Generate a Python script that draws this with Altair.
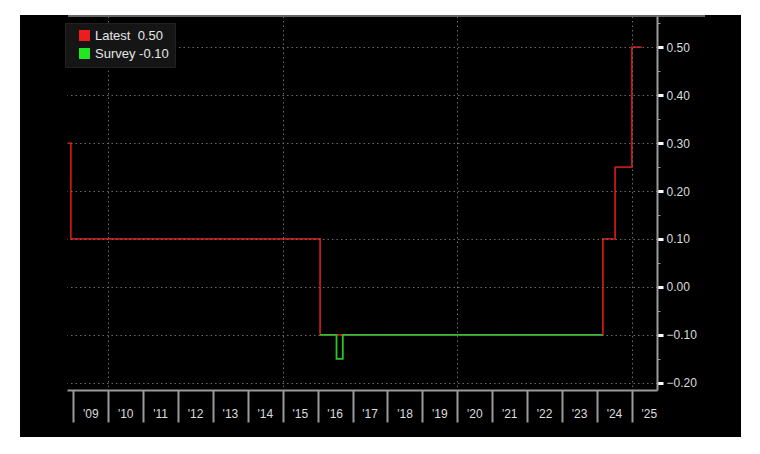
import altair as alt
import pandas as pd

# ---- data ----
series_names = ["Latest", "Survey"]
last_values = ["0.50", "-0.10"]
latest_x = [2008.85, 2008.93, 2016.07, 2024.17, 2024.52, 2025.0, 2025.28]
latest_y = [0.30, 0.10, -0.10, 0.10, 0.25, 0.50, 0.50]
survey_x = [2016.07, 2016.54, 2016.72, 2024.17]
survey_y = [-0.10, -0.15, -0.10, -0.10]
year_ticks = [2009, 2010, 2011, 2012, 2013, 2014, 2015, 2016, 2017,
              2018, 2019, 2020, 2021, 2022, 2023, 2024, 2025]
y_ticks = [-0.20, -0.15, -0.10, -0.05, 0.00, 0.05, 0.10, 0.15, 0.20,
           0.25, 0.30, 0.35, 0.40, 0.45, 0.50, 0.55]
x_domain = [2008.82, 2025.72]
y_domain = [-0.215, 0.565]
line_colors = ["#c41818", "#2cc42c"]
legend_colors = ["#ee1c1c", "#22e622"]

latest_df = pd.DataFrame({"t": latest_x, "v": latest_y, "s": series_names[0]})
survey_df = pd.DataFrame({"t": survey_x, "v": survey_y, "s": series_names[1]})
legend_df = pd.DataFrame({"series": series_names, "lv": last_values})

W, H = 590, 374
AXIS_GRAY = "#9a9a9a"
TEXT = "#dcdcdc"
FONT = "Liberation Sans"

label_map = (f"datum.label == '{series_names[0]}' ? '{series_names[0]}\u00a0\u00a0{last_values[0]}'"
             f" : '{series_names[1]}\u00a0{last_values[1]}'")

odd_y = "round(datum.value*20) % 2 != 0"

x_enc = alt.X(
    "t:Q",
    scale=alt.Scale(domain=x_domain, nice=False, zero=False),
    axis=alt.Axis(
        title=None, values=year_ticks, format="d", zindex=1,
        labelExpr="\"'\" + substring(toString(datum.value), 2, 4)",
        tickSize=32, tickColor=AXIS_GRAY, tickWidth=2,
        labelPadding=-14, labelOffset=17, labelAlign="center",
        labelOverlap=False, labelFlush=False, labelBound=False,
        labelColor=TEXT, labelFontSize=12, labelFont=FONT,
        domainColor=AXIS_GRAY, domainWidth=2,
        grid=True, gridColor="#6a6a6a", gridDash=[1.5, 3], gridWidth=1,
        gridOpacity={"condition": {"test": "datum.value % 5 == 0", "value": 1}, "value": 0},
    ),
)
y_enc = alt.Y(
    "v:Q",
    scale=alt.Scale(domain=y_domain, nice=False, zero=False),
    axis=alt.Axis(
        title=None, orient="right", values=y_ticks, format=".2f", zindex=1,
        labelExpr=f"{odd_y} ? '' : datum.label",
        tickSize={"condition": {"test": odd_y, "value": 3}, "value": 6},
        tickColor={"condition": {"test": odd_y, "value": AXIS_GRAY}, "value": "#ffffff"},
        tickWidth={"condition": {"test": odd_y, "value": 1}, "value": 3},
        labelPadding=3, labelColor=TEXT, labelFontSize=12, labelFont=FONT,
        domainColor=AXIS_GRAY, domainWidth=2,
        grid=True, gridColor="#6a6a6a", gridDash=[1.5, 3], gridWidth=1,
        gridOpacity={"condition": {"test": odd_y, "value": 0}, "value": 1},
    ),
)
stroke_enc = alt.Stroke(
    "s:N", scale=alt.Scale(domain=series_names, range=line_colors), legend=None
)

bg = alt.Chart(alt.Data(values=[{"k": 1}])).mark_rect(color="#000000").encode(
    x=alt.value(-47), x2=alt.value(674), y=alt.value(-1), y2=alt.value(421)
)
top_line = alt.Chart(alt.Data(values=[{"k": 1}])).mark_rule(color="#8a8a8a", strokeWidth=1.5).encode(
    x=alt.value(1), x2=alt.value(638), y=alt.value(0)
)

latest = alt.Chart(latest_df).mark_line(interpolate="step-after", strokeWidth=1.8).encode(
    x=x_enc, y=y_enc, stroke=stroke_enc
)
survey = alt.Chart(survey_df).mark_line(interpolate="step-after", strokeWidth=1.8).encode(
    x=x_enc, y=y_enc, stroke=stroke_enc
)

# legend-only layer: squares of size 0 are invisible; legend symbol size is set explicitly
legend_layer = alt.Chart(legend_df).mark_square(filled=True).encode(
    x=alt.value(-100),
    y=alt.value(-100),
    size=alt.value(0),
    fill=alt.Fill(
        "series:N",
        scale=alt.Scale(domain=series_names, range=legend_colors),
        legend=alt.Legend(
            title=None, orient="none", legendX=-2, legendY=7, zindex=2,
            symbolType="square", symbolSize=121, symbolStrokeWidth=0,
            symbolOffset=7, labelOffset=4, symbolOpacity=1,
            labelExpr=label_map, labelFontSize=13, labelColor="#e6e6e6", labelFont=FONT,
            fillColor="#151515", strokeColor="#222222", padding=6, rowPadding=4,
        ),
    ),
)

chart = alt.layer(bg, latest, survey, top_line, legend_layer).properties(
    width=W, height=H,
    background="white",
    autosize=alt.AutoSizeParams(type="none"),
    padding={"left": 59, "top": 8, "right": 95, "bottom": 50},
).resolve_scale(fill="independent", stroke="independent").configure_view(stroke=None)

chart.save("out.html", embed_options={"renderer": "svg", "actions": False})
